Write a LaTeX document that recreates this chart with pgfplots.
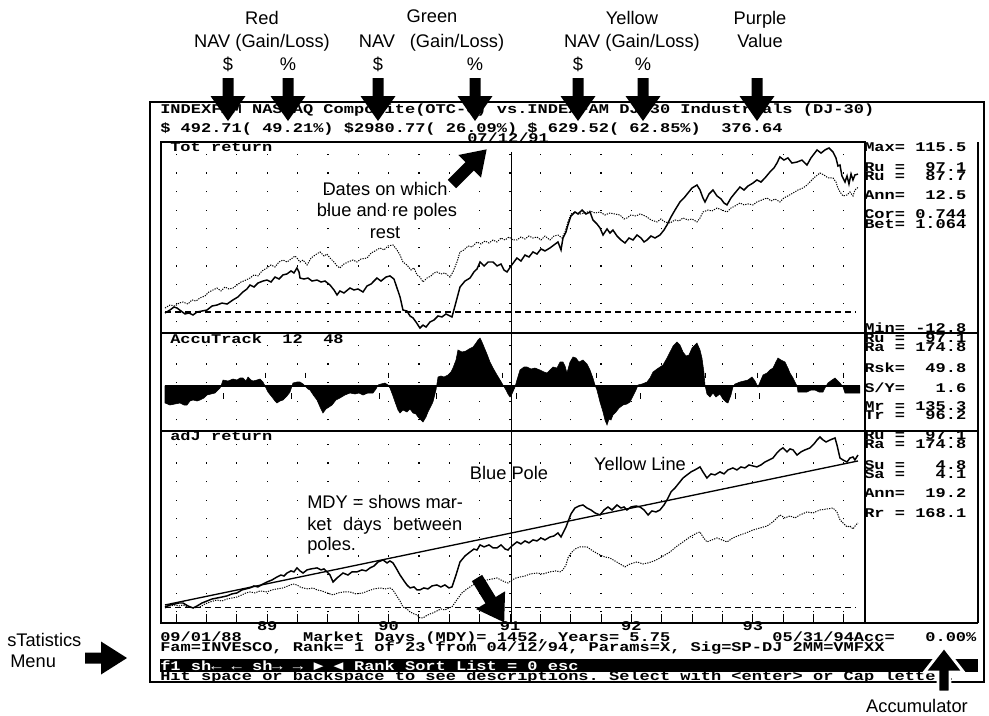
\documentclass[border=0pt]{standalone}
\usepackage{fontspec}
\setmainfont{Liberation Sans}
\newfontfamily\scr{Liberation Mono}[FakeStretch=1.275]
\usepackage{pgfplots}
\usepackage{pgfplotstable}
\pgfplotsset{compat=1.18}

\newcommand\scrf{\scr\bfseries\fontsize{10}{11}\selectfont}
\newcommand\annf{\normalfont\fontsize{13.7}{16}\selectfont}

% block arrow: [style]{x}{y}{angle}{length}{head length}{head half width}{shaft half width}
\newcommand\barrow[8][]{\begin{scope}[shift={(#2,#3)},rotate=#4]
\filldraw[fill=black,draw=none,#1] (0,-#8) -- ({#5-#6},-#8) -- ({#5-#6},-#7) -- (#5,0) -- ({#5-#6},#7) -- ({#5-#6},#8) -- (0,#8) -- cycle;
\end{scope}}

% Tot return, fund (solid)
\pgfplotstableread{
x y
1988.658 -0.7
1988.699 1.4
1988.732 3.5
1988.757 2.8
1988.790 0.7
1988.823 -1.4
1988.856 -0.7
1988.889 -2.1
1988.922 0.0
1988.963 0.7
1989.004 1.4
1989.045 4.2
1989.086 4.9
1989.127 6.3
1989.169 5.6
1989.218 8.5
1989.259 10.6
1989.300 14.1
1989.333 16.2
1989.358 19.0
1989.391 17.6
1989.424 20.4
1989.465 21.8
1989.498 22.5
1989.531 21.1
1989.564 24.6
1989.597 23.2
1989.630 26.1
1989.663 26.8
1989.696 28.9
1989.720 27.5
1989.745 31.0
1989.762 28.2
1989.770 23.9
1989.803 23.2
1989.836 23.9
1989.869 21.8
1989.910 22.5
1989.943 21.1
1989.976 21.8
1990.017 19.0
1990.050 15.5
1990.075 12.0
1990.099 14.8
1990.132 13.4
1990.182 16.9
1990.215 15.5
1990.248 16.2
1990.289 14.1
1990.322 18.3
1990.355 19.7
1990.404 23.9
1990.437 21.8
1990.478 24.6
1990.511 25.4
1990.544 23.2
1990.569 16.9
1990.594 10.6
1990.618 1.4
1990.651 0.7
1990.676 -2.8
1990.701 -4.2
1990.725 -7.0
1990.758 -11.3
1990.783 -9.2
1990.808 -10.6
1990.841 -7.0
1990.874 -5.6
1990.907 -2.8
1990.939 -3.5
1990.972 -1.4
1991.005 -2.8
1991.022 -3.5
1991.055 7.0
1991.088 17.6
1991.129 21.8
1991.170 23.9
1991.203 28.2
1991.228 30.3
1991.253 35.2
1991.286 32.4
1991.319 35.2
1991.360 35.2
1991.393 32.4
1991.426 33.8
1991.450 29.6
1991.475 28.2
1991.508 32.4
1991.557 38.0
1991.590 35.9
1991.623 40.1
1991.656 38.7
1991.689 42.3
1991.722 40.8
1991.755 44.4
1991.788 43.0
1991.829 45.1
1991.862 47.2
1991.895 49.3
1991.920 43.7
1991.936 52.1
1991.961 56.3
1991.977 61.3
1992.002 67.6
1992.035 70.4
1992.060 69.0
1992.093 71.8
1992.126 69.0
1992.159 70.4
1992.183 64.8
1992.216 62.0
1992.241 59.2
1992.266 54.2
1992.299 58.5
1992.323 55.6
1992.348 57.7
1992.381 53.5
1992.414 50.7
1992.447 48.6
1992.480 52.1
1992.513 50.7
1992.546 54.2
1992.579 52.1
1992.604 49.3
1992.628 50.7
1992.661 53.5
1992.694 52.1
1992.735 54.2
1992.768 57.7
1992.793 61.3
1992.826 66.9
1992.859 71.8
1992.900 77.5
1992.933 80.3
1992.966 83.8
1992.999 87.3
1993.040 89.4
1993.065 85.9
1993.089 80.3
1993.106 77.5
1993.139 83.1
1993.172 85.9
1993.205 81.7
1993.238 79.6
1993.262 76.8
1993.287 75.4
1993.320 80.3
1993.353 83.8
1993.394 88.0
1993.427 85.9
1993.460 88.7
1993.501 90.8
1993.534 93.0
1993.567 91.5
1993.600 94.4
1993.641 98.6
1993.674 101.4
1993.699 104.9
1993.723 109.2
1993.756 107.0
1993.789 108.5
1993.822 104.9
1993.864 105.6
1993.905 107.0
1993.946 103.5
1993.979 108.5
1994.029 114.1
1994.062 111.9
1994.094 114.1
1994.127 115.5
1994.160 112.7
1994.185 108.5
1994.201 102.8
1994.218 103.5
1994.234 95.8
1994.259 91.5
1994.276 95.8
1994.292 90.1
1994.309 97.2
1994.325 93.0
1994.341 96.5
1994.366 97.1
}\totA

% Tot return, index (dotted)
\pgfplotstableread{
x y
1988.658 2.8
1988.699 4.9
1988.740 4.2
1988.773 6.3
1988.806 7.0
1988.847 5.6
1988.880 8.5
1988.913 7.7
1988.946 9.9
1988.987 11.3
1989.020 14.1
1989.053 15.5
1989.086 16.9
1989.119 14.8
1989.152 17.6
1989.185 16.2
1989.218 16.9
1989.251 19.0
1989.284 21.1
1989.325 22.5
1989.358 23.9
1989.391 26.1
1989.424 25.4
1989.457 28.9
1989.498 31.0
1989.531 33.1
1989.564 31.7
1989.597 35.2
1989.630 36.6
1989.663 35.2
1989.696 37.3
1989.729 39.4
1989.745 38.0
1989.770 35.2
1989.795 36.6
1989.828 33.1
1989.861 38.0
1989.894 40.1
1989.935 42.3
1989.968 39.4
1989.992 40.8
1990.017 38.0
1990.050 35.2
1990.075 32.4
1990.099 31.0
1990.132 33.8
1990.165 35.2
1990.206 36.6
1990.239 35.2
1990.272 37.3
1990.322 38.0
1990.355 41.5
1990.388 43.0
1990.429 45.1
1990.462 43.7
1990.495 46.5
1990.536 47.2
1990.569 43.7
1990.594 40.1
1990.618 35.2
1990.651 33.1
1990.684 29.6
1990.709 31.0
1990.734 26.1
1990.758 24.6
1990.783 21.1
1990.816 23.9
1990.849 25.4
1990.874 27.5
1990.898 28.2
1990.931 26.8
1990.964 27.5
1991.005 24.6
1991.030 28.2
1991.063 35.2
1991.088 42.3
1991.121 43.7
1991.154 46.5
1991.187 45.8
1991.228 49.3
1991.261 47.9
1991.294 50.0
1991.327 48.6
1991.360 50.7
1991.393 49.3
1991.426 52.1
1991.459 50.7
1991.491 52.8
1991.524 50.7
1991.557 50.7
1991.590 52.8
1991.623 51.4
1991.656 53.5
1991.689 52.1
1991.722 52.8
1991.755 50.7
1991.788 53.5
1991.829 50.7
1991.862 53.5
1991.895 54.2
1991.928 52.1
1991.953 56.3
1991.977 63.4
1992.002 69.0
1992.035 70.4
1992.076 69.0
1992.117 69.7
1992.159 71.1
1992.200 69.7
1992.241 70.4
1992.282 68.3
1992.323 69.7
1992.364 69.0
1992.406 68.3
1992.439 65.5
1992.463 66.2
1992.496 68.3
1992.538 67.6
1992.571 69.0
1992.595 68.3
1992.628 66.9
1992.661 64.8
1992.711 63.4
1992.743 65.5
1992.776 63.4
1992.818 62.7
1992.859 64.8
1992.892 64.1
1992.925 66.2
1992.966 64.8
1992.999 65.5
1993.040 63.4
1993.065 66.2
1993.089 70.4
1993.131 71.8
1993.163 71.1
1993.205 73.2
1993.246 71.8
1993.287 70.4
1993.320 73.2
1993.353 74.6
1993.394 76.8
1993.427 75.4
1993.460 76.1
1993.501 75.4
1993.534 77.5
1993.575 78.9
1993.617 80.3
1993.650 78.2
1993.683 79.6
1993.723 77.5
1993.756 80.3
1993.789 81.7
1993.831 83.8
1993.872 85.9
1993.913 87.3
1993.946 89.4
1993.979 92.3
1994.012 95.1
1994.053 97.9
1994.086 96.5
1994.119 94.4
1994.160 94.4
1994.185 91.5
1994.201 87.3
1994.218 84.5
1994.243 81.7
1994.276 82.4
1994.300 84.5
1994.325 81.7
1994.341 85.9
1994.366 87.7
}\totB

% AccuTrack 12 48
\pgfplotstableread{
x y
1988.658 -17
1988.699 -19
1988.740 -18
1988.782 -17
1988.814 -19
1988.839 -19
1988.864 -15
1988.889 -14
1988.922 -15
1988.946 -14
1988.979 -12
1989.004 -9
1989.037 -8
1989.070 -7
1989.095 -4
1989.111 -2
1989.119 0
1989.136 6
1989.177 5
1989.218 7
1989.251 6
1989.276 8
1989.300 8
1989.325 5
1989.342 9
1989.366 6
1989.383 5
1989.416 6
1989.441 7
1989.465 4
1989.482 0
1989.506 -6
1989.539 -11
1989.564 -15
1989.580 -17
1989.605 -15
1989.630 -14
1989.663 -10
1989.688 -6
1989.704 0
1989.712 3
1989.745 4
1989.770 4
1989.795 2
1989.811 0
1989.836 -3
1989.852 -4
1989.885 -10
1989.910 -14
1989.935 -21
1989.959 -27
1989.984 -23
1990.009 -21
1990.034 -19
1990.066 -14
1990.099 -12
1990.140 -9
1990.182 -7
1990.223 -8
1990.256 -7
1990.289 -9
1990.330 -7
1990.371 -7
1990.396 -3
1990.413 1
1990.437 2
1990.470 3
1990.495 1
1990.511 -2
1990.536 -10
1990.553 -16
1990.577 -24
1990.594 -27
1990.618 -24
1990.651 -26
1990.676 -23
1990.701 -27
1990.725 -28
1990.742 -31
1990.766 -34
1990.783 -36
1990.808 -31
1990.824 -26
1990.849 -20
1990.865 -16
1990.890 -4
1990.907 9
1990.931 10
1990.956 9
1990.989 11
1991.013 14
1991.030 18
1991.055 26
1991.071 36
1991.104 34
1991.137 35
1991.162 37
1991.195 39
1991.220 43
1991.236 46
1991.253 48
1991.269 44
1991.286 39
1991.310 32
1991.335 24
1991.360 18
1991.393 11
1991.418 6
1991.442 1
1991.467 -4
1991.483 -8
1991.500 -11
1991.516 -8
1991.541 -1
1991.557 6
1991.582 16
1991.615 19
1991.640 19
1991.673 17
1991.705 18
1991.747 16
1991.780 14
1991.805 13
1991.829 16
1991.854 19
1991.887 18
1991.912 24
1991.936 24
1991.953 20
1991.969 13
1991.994 24
1992.019 29
1992.043 28
1992.068 24
1992.101 26
1992.134 22
1992.159 16
1992.183 8
1992.200 1
1992.216 -4
1992.241 -16
1992.266 -26
1992.282 -34
1992.299 -39
1992.315 -33
1992.332 -34
1992.348 -29
1992.373 -26
1992.398 -22
1992.431 -19
1992.463 -18
1992.488 -16
1992.513 -10
1992.538 -4
1992.554 1
1992.587 2
1992.628 4
1992.653 8
1992.678 14
1992.711 17
1992.735 19
1992.760 21
1992.793 28
1992.818 34
1992.843 40
1992.875 44
1992.900 41
1992.925 34
1992.950 30
1992.974 31
1992.999 38
1993.023 41
1993.040 43
1993.065 36
1993.081 28
1993.097 14
1993.106 1
1993.122 -8
1993.147 -11
1993.172 -7
1993.196 -11
1993.229 -8
1993.254 -13
1993.279 -16
1993.295 -17
1993.320 -9
1993.336 -1
1993.353 2
1993.394 4
1993.427 5
1993.460 6
1993.493 9
1993.518 5
1993.542 -1
1993.559 4
1993.584 11
1993.617 13
1993.641 16
1993.666 18
1993.690 24
1993.707 28
1993.732 26
1993.765 24
1993.789 18
1993.806 13
1993.831 8
1993.847 4
1993.864 0
1993.872 -6
1993.913 -6
1993.946 -6
1993.979 -4
1994.012 -4
1994.045 -6
1994.078 -6
1994.094 -2
1994.119 3
1994.152 6
1994.177 8
1994.201 5
1994.218 3
1994.243 -1
1994.259 -7
1994.382 -7
}\acc

% AccuTrack signal ticks
\pgfplotstableread{
x y
1989.482 10.5
1989.819 10.5
1990.495 10.5
1991.442 10.5
1992.216 10.5
1993.106 10.5
1993.542 10.5
1993.856 10.5
1994.243 10.5
1989.136 -10
1989.704 -10
1990.421 -10
1990.898 -10
1991.557 -10
1992.571 -10
1993.361 -10
1993.559 -10
}\sig

% adJ return, fund (solid)
\pgfplotstableread{
x y
1988.658 0.7
1988.699 2.1
1988.740 2.8
1988.773 3.5
1988.806 3.5
1988.847 1.4
1988.889 0.0
1988.922 1.4
1988.963 3.5
1989.004 4.9
1989.045 6.3
1989.086 7.0
1989.127 7.7
1989.169 8.5
1989.210 9.9
1989.251 10.6
1989.292 12.7
1989.325 13.4
1989.358 14.1
1989.391 15.5
1989.424 14.8
1989.465 16.9
1989.498 18.3
1989.539 19.7
1989.580 21.8
1989.613 23.2
1989.638 22.5
1989.663 24.6
1989.696 26.1
1989.720 25.4
1989.745 28.2
1989.770 26.1
1989.795 24.6
1989.828 26.8
1989.861 27.5
1989.910 28.2
1989.943 26.8
1989.968 27.5
1989.992 25.4
1990.017 23.2
1990.042 18.3
1990.075 21.1
1990.124 24.6
1990.165 23.2
1990.198 25.4
1990.239 25.4
1990.280 26.8
1990.314 26.1
1990.347 28.2
1990.380 29.6
1990.413 32.4
1990.454 33.8
1990.487 31.7
1990.511 33.1
1990.536 31.7
1990.561 28.2
1990.594 23.2
1990.627 19.0
1990.651 16.2
1990.676 14.1
1990.709 14.8
1990.734 12.7
1990.758 12.7
1990.791 14.1
1990.824 13.4
1990.857 15.5
1990.898 16.2
1990.931 14.8
1990.964 16.2
1990.997 14.1
1991.022 14.8
1991.055 23.2
1991.088 32.4
1991.129 36.6
1991.170 39.4
1991.203 41.5
1991.228 40.8
1991.253 44.4
1991.286 43.0
1991.327 44.4
1991.360 42.3
1991.393 42.3
1991.426 44.4
1991.459 41.5
1991.483 40.8
1991.516 43.7
1991.557 46.5
1991.590 45.1
1991.623 47.2
1991.656 45.8
1991.689 47.9
1991.722 47.2
1991.755 49.3
1991.788 47.9
1991.829 50.0
1991.862 50.7
1991.895 52.8
1991.920 50.0
1991.936 52.8
1991.961 57.0
1991.977 60.6
1992.002 66.2
1992.035 70.4
1992.068 71.8
1992.101 72.5
1992.134 70.4
1992.167 69.0
1992.200 66.9
1992.241 65.5
1992.274 69.0
1992.307 71.1
1992.340 69.0
1992.381 72.5
1992.414 70.4
1992.439 71.1
1992.463 69.0
1992.496 71.1
1992.538 71.8
1992.571 71.1
1992.604 69.0
1992.637 65.5
1992.669 68.3
1992.702 67.6
1992.735 69.0
1992.768 72.5
1992.793 76.1
1992.826 81.7
1992.859 84.5
1992.892 88.0
1992.925 91.5
1992.958 93.7
1992.991 95.8
1993.023 97.2
1993.065 99.3
1993.089 95.8
1993.122 91.5
1993.155 94.4
1993.188 93.7
1993.229 95.8
1993.262 94.4
1993.295 97.2
1993.336 98.6
1993.369 97.2
1993.402 99.3
1993.435 98.6
1993.468 100.7
1993.501 100.0
1993.534 99.3
1993.567 100.7
1993.600 102.8
1993.633 104.2
1993.666 105.6
1993.699 109.2
1993.723 111.3
1993.748 112.7
1993.781 109.9
1993.806 112.0
1993.831 111.3
1993.864 107.7
1993.897 109.9
1993.930 111.3
1993.971 112.7
1994.004 115.5
1994.029 118.3
1994.053 120.4
1994.078 118.3
1994.103 116.9
1994.136 118.3
1994.177 119.7
1994.193 114.8
1994.218 105.6
1994.243 104.2
1994.276 102.8
1994.300 105.6
1994.325 106.3
1994.341 104.2
1994.366 107.7
}\adjA

% adJ return, index (dotted)
\pgfplotstableread{
x y
1988.658 0.0
1988.699 1.4
1988.740 2.1
1988.773 1.4
1988.806 2.1
1988.847 0.7
1988.889 0.0
1988.946 0.7
1988.987 2.8
1989.028 4.2
1989.086 5.6
1989.127 4.9
1989.169 6.3
1989.210 7.0
1989.251 7.7
1989.292 9.2
1989.325 10.6
1989.358 11.3
1989.399 10.6
1989.440 12.0
1989.498 11.3
1989.539 12.7
1989.580 13.4
1989.630 14.1
1989.671 15.5
1989.712 16.9
1989.745 16.2
1989.770 14.8
1989.795 14.1
1989.836 13.4
1989.877 14.1
1989.910 12.7
1989.951 12.0
1989.992 10.6
1990.042 9.2
1990.083 10.6
1990.132 11.3
1990.182 11.3
1990.231 9.9
1990.289 10.6
1990.330 12.0
1990.380 13.4
1990.429 14.1
1990.470 13.4
1990.511 14.1
1990.536 12.7
1990.561 9.2
1990.594 4.9
1990.618 0.7
1990.651 -0.7
1990.676 -2.8
1990.709 -4.2
1990.734 -4.9
1990.758 -7.0
1990.783 -7.0
1990.808 -5.6
1990.841 -4.2
1990.865 -3.5
1990.898 -2.1
1990.931 -0.7
1990.964 -1.4
1990.997 0.0
1991.022 0.7
1991.055 4.9
1991.104 10.6
1991.145 13.4
1991.195 16.2
1991.236 17.6
1991.269 19.0
1991.310 19.7
1991.352 20.4
1991.393 21.1
1991.426 19.7
1991.459 18.3
1991.483 17.6
1991.516 19.7
1991.549 21.1
1991.582 21.8
1991.623 22.5
1991.664 23.9
1991.722 24.6
1991.771 23.9
1991.829 25.4
1991.878 26.1
1991.912 25.4
1991.936 26.8
1991.961 30.3
1991.977 35.2
1992.002 38.7
1992.035 41.5
1992.076 43.0
1992.134 43.0
1992.183 40.1
1992.241 37.3
1992.282 35.9
1992.323 35.2
1992.364 33.1
1992.406 31.0
1992.447 28.9
1992.488 31.0
1992.546 32.4
1992.595 31.0
1992.637 31.7
1992.686 33.1
1992.735 35.2
1992.776 37.3
1992.818 39.4
1992.867 43.0
1992.925 46.5
1992.982 50.0
1993.040 52.8
1993.065 53.5
1993.089 50.0
1993.122 46.5
1993.163 47.9
1993.205 49.3
1993.246 47.9
1993.287 46.5
1993.336 49.3
1993.394 51.4
1993.443 52.8
1993.501 54.9
1993.559 56.3
1993.617 57.7
1993.666 60.6
1993.723 65.5
1993.765 63.4
1993.806 64.8
1993.847 63.4
1993.888 65.5
1993.946 67.6
1993.995 66.9
1994.053 69.0
1994.111 69.7
1994.160 70.4
1994.193 67.6
1994.218 62.0
1994.251 59.2
1994.276 57.0
1994.300 57.7
1994.325 55.6
1994.349 58.5
1994.366 59.9
}\adjB

\pgfplotsset{
  panel/.style={
    scale only axis, width=528pt,
    xmin=1988.625, xmax=1994.424,
    axis line style={black, line width=0.9pt},
    xtick={1988.75,1989,...,1994.25},
    ytick=\empty,
    xmajorgrids,
    major grid style={black, line width=0.9pt, dash pattern=on 0.9pt off 13.05pt, dash phase=6pt},
  },
  nolabels/.style={xticklabels={}, major tick length=0pt, minor tick length=0pt},
}

\begin{document}
\frenchspacing
\begin{tikzpicture}[x=0.75pt,y=-0.75pt,
  scr/.style={font=\scrf,inner sep=0pt,anchor=base west},
  ann/.style={font=\annf,inner sep=0pt,anchor=base}]
\path[use as bounding box] (0,0) rectangle (989,715);

% ---------- Tot return ----------
\begin{axis}[panel, nolabels, at={(120.75pt,-249.75pt)}, anchor=south west,
  height=143.25pt, ymin=-14.8, ymax=119.7]
\addplot[black, line width=1.1pt] table {\totA};
\addplot[black, line width=0.75pt, dash pattern=on 0.9pt off 0.9pt] table {\totB};
\addplot[black, line width=0.8pt, dash pattern=on 4.5pt off 3pt] coordinates {(1988.658,0) (1994.35,0)};
\draw[line width=0.75pt] (axis cs:1991.51,112.7) -- (axis cs:1991.51,-14.8);
\end{axis}

% ---------- AccuTrack ----------
\begin{axis}[panel, nolabels, at={(120.75pt,-323.25pt)}, anchor=south west,
  height=73.5pt, ymin=-45, ymax=53]
\addplot[fill=black, draw=black, line width=0.4pt] table {\acc} \closedcycle;
\addplot[black, line width=0.9pt] coordinates {(1988.658,0) (1994.382,0)};
\addplot[only marks, mark=|, mark size=2.2pt, mark options={black, line width=0.75pt}] table {\sig};
\draw[line width=0.75pt] (axis cs:1991.51,-45) -- (axis cs:1991.51,53);
\end{axis}

% ---------- adJ return ----------
\begin{axis}[panel, at={(120.75pt,-467.25pt)}, anchor=south west,
  height=144pt, ymin=-10.6, ymax=124.6,
  xtick pos=left, tick align=inside,
  major tick length=6.75pt, minor x tick num=2, minor tick length=3pt,
  every tick/.style={black, line width=0.75pt},
  xticklabels={},
  extra x ticks={1989.5,1990.5,1991.5,1992.5,1993.5},
  extra x tick labels={89,90,91,92,93},
  extra x tick style={grid=none, major tick length=0pt,
    tick label style={font=\scrf, anchor=north, inner sep=0pt, yshift=0.9pt}}]
\addplot[black, line width=1.1pt] table {\adjA};
\addplot[black, line width=0.75pt, dash pattern=on 0.9pt off 0.9pt] table {\adjB};
\addplot[black, line width=1pt] coordinates {(1988.658,2.1) (1994.366,103.5)};
\addplot[black, line width=0.8pt, dash pattern=on 4.5pt off 3pt] coordinates {(1988.658,0) (1994.35,0)};
\draw[line width=0.75pt] (axis cs:1991.51,-10.6) -- (axis cs:1991.51,124.6);
\end{axis}

% ---------- screen frame ----------
\draw[line width=1.5pt] (150,102) rectangle (984,682);
\draw[line width=0.9pt] (978,142) -- (978,623);
\draw[line width=0.9pt] (865,333) -- (978,333);
\draw[line width=0.9pt] (865,431) -- (978,431);
\draw[line width=0.9pt] (865,623) -- (978,623);

% ---------- screen text ----------
\node[scr] at (160,113) {INDEXFAM NASDAQ Composite(OTC-C) vs.INDEXFAM DJ-30 Industrials (DJ-30)};
\node[scr] at (160,132) {\$ 492.71( 49.21\%) \$2980.77( 26.09\%) \$ 629.52( 62.85\%)~~376.64};
\node[scr] at (467,142) {07/12/91};
\node[scr] at (170,151) {Tot return};
\node[scr] at (170,343) {AccuTrack~~12~~48};
\node[scr] at (170,440) {adJ return};

\node[scr] at (864,151) {Max=~115.5};
\node[scr] at (864,171) {Ru~=~~97.1};
\node[scr] at (864,180) {Ru~=~~87.7};
\node[scr] at (864,199) {Ann=~~12.5};
\node[scr] at (864,218) {Cor=~0.744};
\node[scr] at (864,228) {Bet=~1.064};
\node[scr] at (864,332) {Min=~-12.8};
\node[scr] at (864,342) {Ru~=~~97.1};
\node[scr] at (864,351) {Ra~=~174.8};
\node[scr] at (864,372) {Rsk=~~49.8};
\node[scr] at (864,392) {S/Y=~~~1.6};
\node[scr] at (864,410) {Mr~=~135.3};
\node[scr] at (864,419) {Tr~=~~96.2};
\node[scr] at (864,439) {Ru~=~~97.1};
\node[scr] at (864,448) {Ra~=~174.8};
\node[scr] at (864,469) {Su~=~~~4.8};
\node[scr] at (864,478) {Sa~=~~~4.1};
\node[scr] at (864,497) {Ann=~~19.2};
\node[scr] at (864,517) {Rr~=~168.1};

\node[scr] at (160,641) {09/01/88~~~~~~Market Days (MDY)= 1452, Years= 5.75~~~~~~~~~~05/31/94Acc=~~~0.00\%};
\node[scr] at (160,651) {Fam=INVESCO, Rank= 1 of 23 from 04/12/94, Params=X, Sig=SP-DJ 2MM=VMFXX};
\fill (160,659) rectangle (978,672);
\node[scr, text=white] at (160,670) {f1 sh← ← sh→ → ► ◄ Rank Sort List = 0 esc};
\node[scr] at (160,680) {Hit space or backspace to see descriptions. Select with <enter> or Cap letter.};

% ---------- annotations ----------
\node[ann] at (262,24) {Red};
\node[ann] at (262,47) {NAV (Gain/Loss)};
\node[ann] at (228,70) {\$};
\node[ann] at (288,70) {\%};
\node[ann] at (432,22) {Green};
\node[ann] at (377,47) {NAV};
\node[ann] at (457,47) {(Gain/Loss)};
\node[ann] at (378,70) {\$};
\node[ann] at (475,70) {\%};
\node[ann] at (632,24) {Yellow};
\node[ann] at (632,47) {NAV (Gain/Loss)};
\node[ann] at (578,70) {\$};
\node[ann] at (643,70) {\%};
\node[ann] at (760,24) {Purple};
\node[ann] at (760,47) {Value};

\node[ann] at (385,195) {Dates on which};
\node[ann] at (387,216) {blue and re poles};
\node[ann] at (385,238) {rest};
\node[ann] at (509,479) {Blue Pole};
\node[ann, anchor=base west] at (307,508) {MDY = shows mar-};
\node[ann, anchor=base west] at (307,530) {\makebox[116.25pt][s]{ket days between}};
\node[ann, anchor=base west] at (307,550) {poles.};
\node[ann] at (640,470) {Yellow Line};
\node[ann, anchor=base west] at (7,646) {sTatistics};
\node[ann, anchor=base west] at (10,667) {Menu};
\node[ann] at (917,712) {Accumulator};

% ---------- arrows ----------
\barrow{228}{78}{-90}{43}{25}{17.5}{5.5}
\barrow{288}{78}{-90}{43}{25}{17.5}{5.5}
\barrow{378}{78}{-90}{43}{25}{17.5}{5.5}
\barrow{475}{78}{-90}{43}{25}{17.5}{5.5}
\barrow{578}{78}{-90}{43}{25}{17.5}{5.5}
\barrow{643}{78}{-90}{43}{25}{17.5}{5.5}
\barrow{757}{78}{-90}{43}{25}{17.5}{5.5}
\barrow{452}{184}{45}{49}{24}{16}{6}
\barrow{477}{578}{-58.5}{52}{26}{17}{6}
\barrow{85}{658}{0}{42}{26}{16.5}{5.5}
\barrow[draw=white,line width=2.2pt]{944}{692}{90}{45}{25}{19.5}{6}
\end{tikzpicture}
\end{document}
